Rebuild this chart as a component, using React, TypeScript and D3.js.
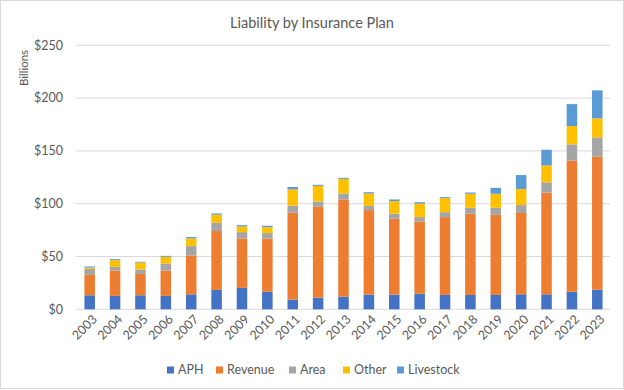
import React from "react";
import * as d3 from "d3";

// chart values (billions of dollars)
const years = [
  "2003", "2004", "2005", "2006", "2007", "2008", "2009", "2010", "2011", "2012", "2013",
  "2014", "2015", "2016", "2017", "2018", "2019", "2020", "2021", "2022", "2023",
];
const aph = [13.3, 12.7, 13.3, 12.7, 14.2, 18.4, 20.3, 16.8, 9.2, 11, 12, 13.9, 13.9, 14.7, 13.6, 13.6, 13.6, 14.2, 14.2, 16.7, 18.6];
const revenue = [19.3, 24, 20.2, 24, 36.8, 55.7, 46.8, 50.3, 82.3, 86.1, 92, 80, 71.8, 68.5, 73.7, 76.9, 75.9, 77, 96.2, 124, 125.9];
const area = [5.7, 3.5, 4.2, 6.7, 9.1, 7.9, 6, 5.1, 6.6, 5, 5.7, 4.1, 4.8, 4.1, 4.7, 5.6, 6.6, 7.5, 9.8, 15.5, 18.3];
const other = [1.3, 6.3, 6.6, 6.3, 7, 7.6, 5.4, 5.6, 15.5, 14.8, 13.8, 11.7, 11.9, 12.8, 13.3, 13.3, 13.3, 15.2, 16.1, 17.3, 18];
const livestock = [1, 1, 0.7, 0.9, 1.3, 1.2, 1.2, 1.3, 2.2, 1, 1, 1.2, 1.6, 1.3, 0.9, 1.2, 5.6, 13.2, 14.8, 20.8, 26.5];
const seriesNames = ["APH", "Revenue", "Area", "Other", "Livestock"];
const seriesColors = ["#4472C4", "#ED7D31", "#A5A5A5", "#FFC000", "#5B9BD5"];
const yTicks = [0, 50, 100, 150, 200, 250];

const W = 624;
const H = 390;
const FONT = "Lato, 'Open Sans', sans-serif";
const TEXT = "#595959";

export default function App() {
  const rows = years.map((y, i) => ({
    year: y,
    APH: aph[i],
    Revenue: revenue[i],
    Area: area[i],
    Other: other[i],
    Livestock: livestock[i],
  }));
  const stacked = d3.stack<any>().keys(seriesNames)(rows);

  const x = d3
    .scaleBand()
    .domain(years)
    .range([77, 610])
    .paddingInner(0.585)
    .paddingOuter(0.2925);
  const y = d3.scaleLinear().domain([0, 250]).range([309.3, 45.3]);
  const fmt = (v: number) => "$" + d3.format(",")(v);

  // legend layout: square, gap, label
  const legendX = [167, 216, 289, 343, 397];

  return (
    <svg
      width={W}
      height={H}
      style={{ position: "absolute", left: 0, top: 0, background: "#fff" }}
      fontFamily={FONT}
    >
      <rect x={0.5} y={0.5} width={W - 1} height={H - 2} fill="#fff" stroke="#D9D9D9" />
      <text x={312} y={28} textAnchor="middle" fontSize={14.5} fill={TEXT}>
        Liability by Insurance Plan
      </text>
      <text
        transform={`translate(28,68) rotate(-90)`}
        textAnchor="middle"
        fontSize={11.5}
        fill={TEXT}
      >
        Billions
      </text>

      {yTicks.map((t) => (
        <g key={t}>
          <line x1={76} x2={610} y1={y(t)} y2={y(t)} stroke="#D9D9D9" strokeWidth={1} />
          <text x={63} y={y(t)} dy="0.35em" textAnchor="end" fontSize={12.5} fill={TEXT}>
            {fmt(t)}
          </text>
        </g>
      ))}

      {stacked.map((s, si) => (
        <g key={s.key} fill={seriesColors[si]}>
          {s.map((d, i) => (
            <rect
              key={i}
              x={x(years[i])}
              width={x.bandwidth()}
              y={y(d[1])}
              height={y(d[0]) - y(d[1])}
            />
          ))}
        </g>
      ))}

      {years.map((yr) => (
        <text
          key={yr}
          transform={`translate(${(x(yr) as number) + x.bandwidth() / 2 + 5},317) rotate(-45)`}
          textAnchor="end"
          dy="0.35em"
          fontSize={12.5}
          fill={TEXT}
        >
          {yr}
        </text>
      ))}

      {seriesNames.map((n, i) => (
        <g key={n} transform={`translate(${legendX[i]},370)`}>
          <rect x={0} y={-3.5} width={7} height={7} fill={seriesColors[i]} />
          <text x={11} dy="0.35em" fontSize={12.5} fill={TEXT}>
            {n}
          </text>
        </g>
      ))}
    </svg>
  );
}
